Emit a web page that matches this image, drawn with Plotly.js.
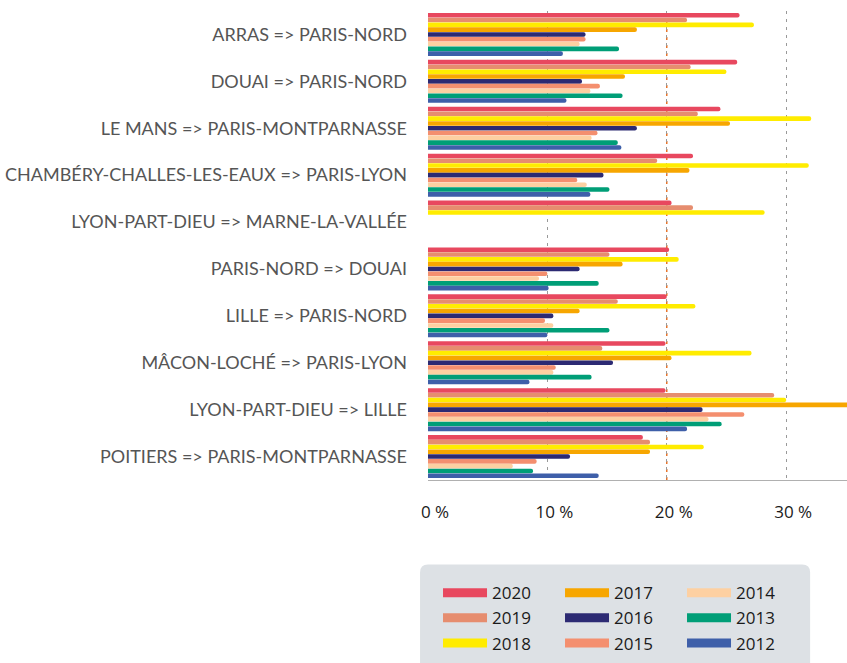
<!DOCTYPE html>
<html>
<head>
<meta charset="utf-8">
<script src="https://cdn.plot.ly/plotly-3.0.1.min.js"></script>
<style>
  body { margin: 0; background: #fff; }
  #chart { width: 847px; height: 663px; }
</style>
</head>
<body>
<div id="chart"></div>
<script>
const routes = [
  'ARRAS => PARIS-NORD',
  'DOUAI => PARIS-NORD',
  'LE MANS => PARIS-MONTPARNASSE',
  'CHAMBÉRY-CHALLES-LES-EAUX => PARIS-LYON',
  'LYON-PART-DIEU => MARNE-LA-VALLÉE',
  'PARIS-NORD => DOUAI',
  'LILLE => PARIS-NORD',
  'MÂCON-LOCHÉ => PARIS-LYON',
  'LYON-PART-DIEU => LILLE',
  'POITIERS => PARIS-MONTPARNASSE'
];

const years = ['2020', '2019', '2018', '2017', '2016', '2015', '2014', '2013', '2012'];

// share of trains late, per route (%)
const v2020 = [26.1, 25.9, 24.5, 22.2, 20.4, 20.2, 20.0, 19.9, 19.9, 18.0];
const v2019 = [21.7, 22.0, 22.6, 19.2, 22.2, 15.2, 15.9, 14.6, 29.0, 18.6];
const v2018 = [27.3, 25.0, 32.1, 31.9, 28.2, 21.0, 22.4, 27.1, 30.0, 23.1];
const v2017 = [17.5, 16.5, 25.3, 21.9, null, 16.3, 12.7, 20.4, 36.5, 18.6];
const v2016 = [13.2, 12.9, 17.5, 14.7, null, 12.7, 10.5, 15.5, 23.0, 11.9];
const v2015 = [13.2, 14.4, 14.2, 12.5, null, 10.0, 9.8, 10.7, 26.5, 9.1];
const v2014 = [12.7, 13.6, 13.7, 13.3, null, 9.3, 10.5, 10.5, 23.5, 7.1];
const v2013 = [16.0, 16.3, 15.9, 15.2, null, 14.3, 15.2, 13.7, 24.6, 8.8];
const v2012 = [11.3, 11.6, 16.2, 13.6, null, 10.1, 10.0, 8.5, 21.7, 14.3];

const tickVals = [0, 10, 20, 30];
const tickText = ['0 %', '10 %', '20 %', '30 %'];

const series = [v2020, v2019, v2018, v2017, v2016, v2015, v2014, v2013, v2012];
const colors = ['#e8485f', '#e68d6f', '#ffec00', '#f7a600', '#2c2a73', '#f48f6f', '#fdd0a2', '#009e77', '#3e5fa9'];
// legend reads column by column
const legendRanks = [1, 4, 7, 2, 5, 8, 3, 6, 9];

const bars = series.map((vals, i) => ({
  type: 'bar',
  orientation: 'h',
  x: vals,
  y: routes,
  name: years[i],
  legendgroup: years[i],
  showlegend: false,
  marker: { color: colors[i], line: { width: 0 } },
  hoverinfo: 'x+name'
}));

const legendItems = years.map((yr, i) => ({
  type: 'scatter',
  mode: 'lines',
  x: [null],
  y: [null],
  name: yr,
  legendgroup: yr,
  legendrank: legendRanks[i],
  line: { color: colors[i], width: 9 },
  hoverinfo: 'skip'
}));

const layout = {
  width: 847,
  height: 663,
  margin: { l: 428, r: 0, t: 10.5, b: 182.5 },
  paper_bgcolor: '#ffffff',
  plot_bgcolor: '#ffffff',
  barmode: 'group',
  bargap: 0.08,
  bargroupgap: 0.04,
  barcornerradius: 3,
  xaxis: {
    range: [0, 35.1],
    tickmode: 'array',
    tickvals: tickVals,
    ticktext: tickText,
    showgrid: true,
    gridcolor: '#999999',
    griddash: '3px,5px',
    gridwidth: 1.2,
    zeroline: false,
    showline: true,
    linecolor: '#b0b0b0',
    linewidth: 1,
    ticks: '',
    ticklabelstandoff: 17,
    ticklabelshift: 7,
    tickfont: { family: 'Open Sans, sans-serif', size: 17, color: '#1a1a1a' }
  },
  yaxis: {
    autorange: 'reversed',
    type: 'category',
    showgrid: false,
    zeroline: false,
    showline: false,
    ticks: '',
    ticklabelstandoff: 20,
    tickfont: { family: 'Lato, sans-serif', size: 18, color: '#555' }
  },
  shapes: [
    {
      type: 'line', layer: 'below',
      xref: 'x', yref: 'paper',
      x0: 20, x1: 20, y0: 0, y1: 1,
      line: { color: '#e8742a', width: 1.5, dash: '3px,5px' }
    },
    {
      type: 'path', layer: 'below',
      xref: 'paper', yref: 'paper',
      path: 'M 0.0 -0.18 L 0.893 -0.18 Q 0.912 -0.18 0.912 -0.197 L 0.912 -0.4 L -0.019 -0.4 L -0.019 -0.197 Q -0.019 -0.18 0.0 -0.18 Z',
      fillcolor: '#dde1e5',
      line: { width: 0 }
    }
  ],
  showlegend: true,
  legend: {
    orientation: 'h',
    x: 0.0239,
    xanchor: 'left',
    y: -0.203,
    yanchor: 'top',
    bgcolor: 'rgba(0,0,0,0)',
    entrywidth: 63,
    entrywidthmode: 'pixels',
    itemwidth: 44,
    traceorder: 'normal',
    font: { family: 'Open Sans, sans-serif', size: 17, color: '#1a1a1a' }
  }
};

Plotly.newPlot('chart', bars.concat(legendItems), layout, { displayModeBar: false, staticPlot: true });
</script>
</body>
</html>
